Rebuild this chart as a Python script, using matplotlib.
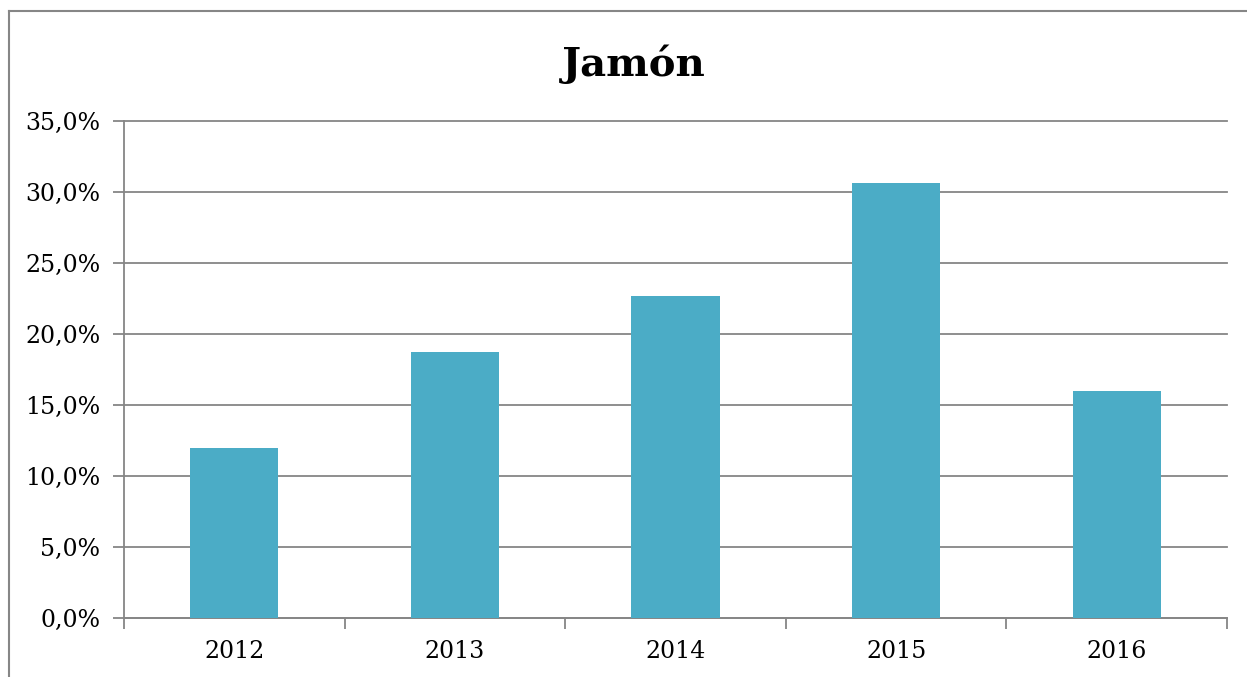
import matplotlib
matplotlib.use('Agg')
import matplotlib.pyplot as plt
from matplotlib.lines import Line2D
from matplotlib.ticker import FuncFormatter, MultipleLocator

years = ['2012', '2013', '2014', '2015', '2016']
share = [12.0, 18.7, 22.7, 30.6, 16.0]  # percent
title = 'Jamón'

bar_color = '#4BACC6'
grid_color = '#868686'

plt.rcParams['font.family'] = ['DejaVu Serif']

fig = plt.figure(figsize=(12.47, 6.77), dpi=100)
ax = fig.add_axes([0.0994, 0.0872, 0.8846, 0.7341])

x = range(len(years))
ax.bar(x, share, width=0.4, color=bar_color, zorder=3)

ax.set_xlim(-0.5, len(years) - 0.5)
ax.set_ylim(0, 35)
ax.yaxis.set_major_locator(MultipleLocator(5))
ax.yaxis.set_major_formatter(FuncFormatter(lambda v, p: f'{v:.1f}%'.replace('.', ',')))
ax.grid(axis='y', color=grid_color, linewidth=1.3, zorder=0)
for gl in ax.get_ygridlines():
    gl.set_clip_on(False)

# category labels centred, ticks on category boundaries
ax.set_xticks(list(x))
ax.set_xticklabels(years)
ax.tick_params(axis='x', length=0, pad=16, labelsize=17)
ax.set_xticks([i - 0.5 for i in range(len(years) + 1)], minor=True)
ax.tick_params(axis='x', which='minor', length=8, width=1.3, color=grid_color)
ax.tick_params(axis='y', length=8, width=1.3, color=grid_color, labelsize=17, pad=9)

for s in ['top', 'right']:
    ax.spines[s].set_visible(False)
for s in ['left', 'bottom']:
    ax.spines[s].set_color(grid_color)
    ax.spines[s].set_linewidth(1.3)

fig.text(0.508, 0.905, title, ha='center', va='center', fontsize=29, fontweight='bold')

# chart-area border (top and left visible in the crop)
fig.add_artist(Line2D([9 / 1247, 9 / 1247], [0, 1 - 11 / 677], color=grid_color, lw=1.5))
fig.add_artist(Line2D([9 / 1247, 1], [1 - 11 / 677, 1 - 11 / 677], color=grid_color, lw=1.5))

fig.savefig('out.png', dpi=100)
